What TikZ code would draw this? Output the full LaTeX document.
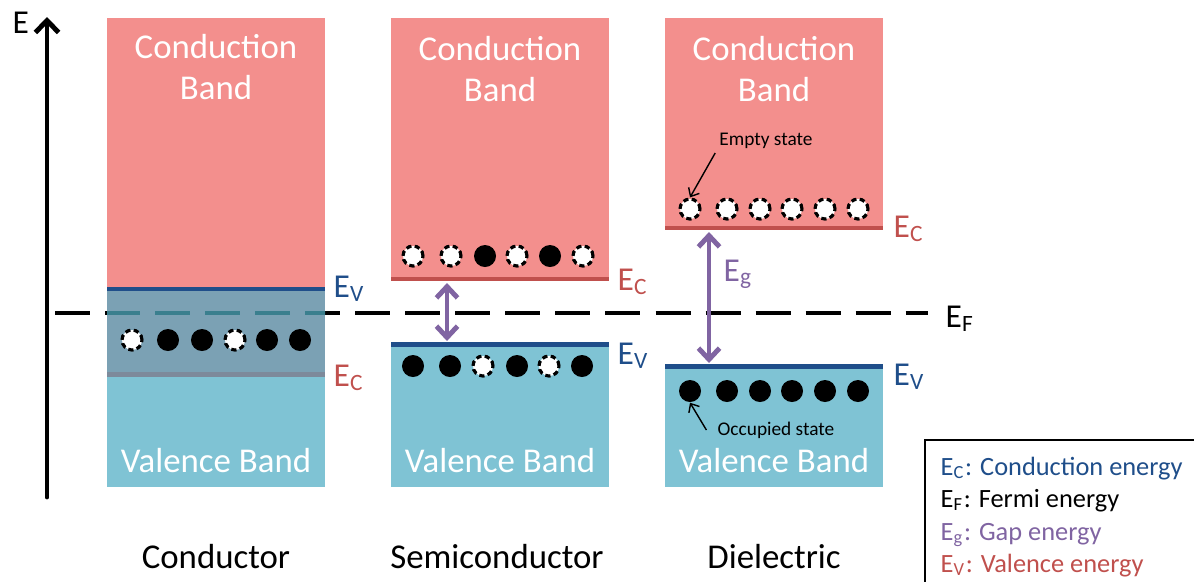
\documentclass[tikz,border=0pt]{standalone}
\usepackage{fontspec}
\setmainfont{Carlito}
\usepackage{tikz}
\usetikzlibrary{arrows.meta, positioning}
\usepackage{xcolor}

\definecolor{cbpink}{HTML}{F38F8D}
\definecolor{vbblue}{HTML}{7FC3D4}
\definecolor{overlapblue}{HTML}{7BA1B4}
\definecolor{ecred}{HTML}{C0504D}
\definecolor{evblue}{HTML}{1F4E8A}
\definecolor{gappurple}{HTML}{8064A2}
\definecolor{fermiteal}{HTML}{3A7F8E}
\definecolor{ecgray}{HTML}{7D8A9B}

\begin{document}
\begin{tikzpicture}[x=0.01cm, y=-0.01cm,
    bandtext/.style = {text=white, align=center, font=\fontsize{9.9}{11.8}\selectfont},
    title/.style = {font=\fontsize{9.9}{11.8}\selectfont},
    level/.style = {anchor=base west, inner sep=0pt, font=\fontsize{9.5}{11}\selectfont},
    legendtext/.style = {anchor=base west, inner sep=0pt, font=\fontsize{7.5}{9}\selectfont},
    note/.style = {inner sep=1pt, font=\fontsize{5.5}{6.5}\selectfont},
    hole/.style = {circle, draw=black, fill=white, line width=0.9pt, dash pattern=on 1.5pt off 0.95pt, minimum size=0.2cm, inner sep=0pt},
    electron/.style = {circle, fill=black, minimum size=0.22cm, inner sep=0pt},
    ecline/.style = {draw=ecred, line width=1.4pt},
    evline/.style = {draw=evblue, line width=1.4pt},
    fermi/.style = {line width=1.3pt, dash pattern=on 9.96pt off 4.27pt},
    gaparrow/.style = {draw=gappurple, line width=1.4pt, {Straight Barb[length=3.2pt,width=6pt]}-{Straight Barb[length=3.2pt,width=6pt]}},
    pointer/.style = {draw=black, line width=0.4pt, -{Straight Barb[length=2pt,width=3.5pt]}}
]
\useasboundingbox (0,0) rectangle (1194,581);
\clip (0,0) rectangle (1194,581);

% Bands
\fill [cbpink] (107,18) rectangle (325,289);
\fill [overlapblue] (107,289) rectangle (325,375);
\fill [vbblue] (107,375) rectangle (325,487);
\fill [cbpink] (391,18) rectangle (609,279);
\fill [vbblue] (391,344) rectangle (609,487);
\fill [cbpink] (665,18) rectangle (883,228);
\fill [vbblue] (665,366) rectangle (883,487);

% Band edges
\draw [evline] (107,289) -- (325,289);
\draw [draw=ecgray, line width=1.4pt] (107,374.5) -- (325,374.5);
\draw [ecline] (391,279) -- (609,279);
\draw [evline] (391,344.5) -- (609,344.5);
\draw [ecline] (665,228) -- (883,228);
\draw [evline] (665,366.5) -- (883,366.5);

% Fermi level
\coordinate (fstart) at (55,313);
\coordinate (fend) at (928,313);
\draw [fermi] (fstart) -- (fend);
\begin{scope}
  \clip (107,300) rectangle (325,330);
  \draw [fermi, fermiteal] (fstart) -- (fend);
\end{scope}

% Energy axis
\coordinate (origin) at (47,497);
\coordinate (etop) at (47,17);
\draw [line width=1.4pt, line cap=round, -{Straight Barb[length=3.4pt,width=6.6pt]}] (origin) -- (etop);
\node (elabel) [level] at (12,33) {E};

% Band names
\node (cbcond) [bandtext] at (216,67) {Conduction\\Band};
\node (vbcond) [bandtext] at (216,461) {Valence Band};
\node (cbsemi) [bandtext] at (500,69) {Conduction\\Band};
\node (vbsemi) [bandtext] at (500,461) {Valence Band};
\node (cbdiel) [bandtext] at (774,69) {Conduction\\Band};
\node (vbdiel) [bandtext] at (774,461) {Valence Band};

% States
\foreach \x/\k [count=\i] in {132/hole,168/electron,202/electron,235/hole,267/electron,300/electron}
  \node (k\i) [\k] at (\x,340) {};
\foreach \x/\k [count=\i] in {413/hole,451/hole,485/electron,517/hole,550/electron,583/hole}
  \node (sc\i) [\k] at (\x,256) {};
\foreach \x/\k [count=\i] in {413/electron,450/electron,483/hole,517/electron,549/hole,582/electron}
  \node (sv\i) [\k] at (\x,366) {};
\foreach \x [count=\i] in {690,727,760,792,825,858}
  \node (dc\i) [hole] at (\x,209) {};
\foreach \x [count=\i] in {690,727,760,792,825,858}
  \node (dv\i) [electron] at (\x,391) {};

% Gap arrows
\coordinate (sgtop) at (447,283);
\coordinate (sgbot) at (447,341);
\draw [gaparrow] (sgtop) -- (sgbot);
\coordinate (dgtop) at (709,232);
\coordinate (dgbot) at (709,363);
\draw [gaparrow] (dgtop) -- (dgbot);

% Level labels
\node (evcond) [level, text=evblue] at (333,297) {E\textsubscript{V}};
\node (eccond) [level, text=ecred] at (333,386) {E\textsubscript{C}};
\node (ecsemi) [level, text=ecred] at (617,290) {E\textsubscript{C}};
\node (evsemi) [level, text=evblue] at (617,364) {E\textsubscript{V}};
\node (ecdiel) [level, text=ecred] at (893,237) {E\textsubscript{C}};
\node (evdiel) [level, text=evblue] at (893,385) {E\textsubscript{V}};
\node (egdiel) [level, text=gappurple] at (723,281) {E\textsubscript{g}};
\node (eflabel) [level] at (945,327) {E\textsubscript{F}};

% State notes
\node (emptynote) [note] at (766,141) {Empty state};
\draw [pointer] (emptynote.south west) -- (dc1.north);
\node (occnote) [note] at (776,430) {Occupied state};
\draw [pointer] ([xshift=-2pt]occnote.west) -- (dv1.south);

% Material names
\node (conductor) [title] at (216,557) {Conductor};
\node (semiconductor) [title] at (497,557) {Semiconductor};
\node (dielectric) [title] at (774,557) {Dielectric};

% Legend
\draw [line width=0.5pt] (925,440) rectangle (1210,600);
\node (legc) [legendtext, text=evblue] at (940,475) {E\textsubscript{C}: Conduction energy};
\node (legf) [legendtext] at (940,507) {E\textsubscript{F}: Fermi energy};
\node (legg) [legendtext, text=gappurple] at (940,540) {E\textsubscript{g}: Gap energy};
\node (legv) [legendtext, text=ecred] at (940,572) {E\textsubscript{V}: Valence energy};

\end{tikzpicture}
\end{document}
